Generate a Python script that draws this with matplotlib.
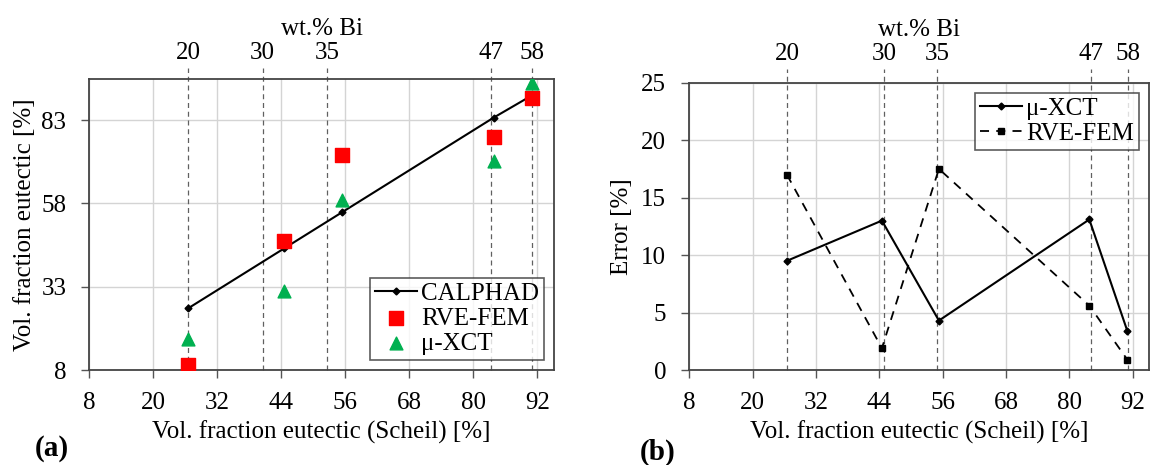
import matplotlib
matplotlib.use('Agg')
import matplotlib.pyplot as plt

plt.rcParams['font.family'] = ['Liberation Serif', 'DejaVu Serif']

# data
scheil = [26.5, 44.5, 55.3, 83.8, 91.0]
calphad = [26.5, 44.5, 55.3, 83.8, 90.5]
rve_fem = [9.5, 46.6, 72.5, 78.0, 89.8]
xct = [17.2, 31.6, 59.1, 70.7, 94.2]

err_xct = [9.5, 13.0, 4.3, 13.1, 3.4]
err_rve = [17.0, 1.9, 17.5, 5.6, 0.9]

wt_bi = ['20', '30', '35', '47', '58']
wt_pos_a = [26.5, 40.5, 52.5, 83.2, 91.0]
wt_pos_b = [26.5, 44.9, 55.0, 84.2, 91.2]

x_ticks = [8, 20, 32, 44, 56, 68, 80, 92]
ya_ticks = [8, 33, 58, 83]
yb_ticks = [0, 5, 10, 15, 20, 25]

red = '#ff0000'
green = '#00b050'
FS = 18

fig = plt.figure(figsize=(11.53, 4.65), dpi=100)
ax1 = fig.add_axes([0.0775, 0.2043, 0.4030, 0.6252])
ax2 = fig.add_axes([0.5978, 0.2043, 0.3987, 0.6178])


def style(ax, pos, yticks, ext, toppad):
    ax.set_xticks(x_ticks)
    ax.set_yticks(yticks)
    ax.grid(True, color='#d4d4d4', lw=1.0)
    ax.set_axisbelow(True)
    ax.tick_params(labelsize=FS, length=5.5, width=1.0, color='#555555',
                   direction='out', top=False, right=False)
    ax.tick_params(axis='x', pad=10)
    ax.tick_params(axis='y', pad=11)
    for s in ax.spines.values():
        s.set_linewidth(1.3)
        s.set_color('#444444')
    ax.set_xlabel('Vol. fraction eutectic (Scheil) [%]', fontsize=FS, labelpad=5)
    trans = ax.get_xaxis_transform()
    for p in pos:
        ax.plot([p, p], [0, ext], color='#606060', lw=0.9, ls=(0, (4, 3)),
                transform=trans, clip_on=False, zorder=1)
    top = ax.twiny()
    top.set_xlim(ax.get_xlim())
    top.set_xticks(pos)
    top.set_xticklabels(wt_bi)
    top.tick_params(length=0, labelsize=FS, pad=toppad)
    top.set_xlabel('wt.% Bi', fontsize=FS, labelpad=5)
    for s in top.spines.values():
        s.set_visible(False)


def legend(ax, loc):
    leg = ax.legend(loc=loc, fontsize=FS, frameon=True, fancybox=False,
                    edgecolor='#333333', borderpad=0.2, handletextpad=0.15,
                    labelspacing=0.1, handlelength=1.7, borderaxespad=0.4)
    leg.get_frame().set_linewidth(1.2)


# (a)
ax1.set_xlim(8, 95.1)
ax1.set_ylim(8, 95.3)
ax1.plot(scheil, calphad, color='black', lw=1.5, marker='D', ms=3.5, label='CALPHAD', zorder=3)
ax1.scatter(scheil, rve_fem, marker='s', s=100, color=red, label='RVE-FEM', zorder=4)
ax1.scatter(scheil, xct, marker='^', s=85, color=green, label='\u03bc-XCT', zorder=4)
ax1.set_ylabel('Vol. fraction eutectic [%]', fontsize=FS, labelpad=4)
style(ax1, wt_pos_a, ya_ticks, 1.038, 11)
legend(ax1, 'lower right')

# (b)
ax2.set_xlim(8, 95.1)
ax2.set_ylim(0, 25)
ax2.plot(scheil, err_xct, color='black', lw=1.5, marker='D', ms=3.5, label='\u03bc-XCT', zorder=3)
ax2.plot(scheil, err_rve, color='black', lw=1.3, ls=(0, (5, 4)), marker='s', ms=4.5,
         label='RVE-FEM', zorder=3)
ax2.set_ylabel('Error [%]', fontsize=FS, labelpad=6)
style(ax2, wt_pos_b, yb_ticks, 1.049, 13)
legend(ax2, 'upper right')

fig.text(0.045, 0.035, '(a)', fontsize=21, fontweight='bold', ha='center', va='center')
fig.text(0.570, 0.028, '(b)', fontsize=21, fontweight='bold', ha='center', va='center')

fig.savefig('out.png', dpi=100, facecolor='white')
